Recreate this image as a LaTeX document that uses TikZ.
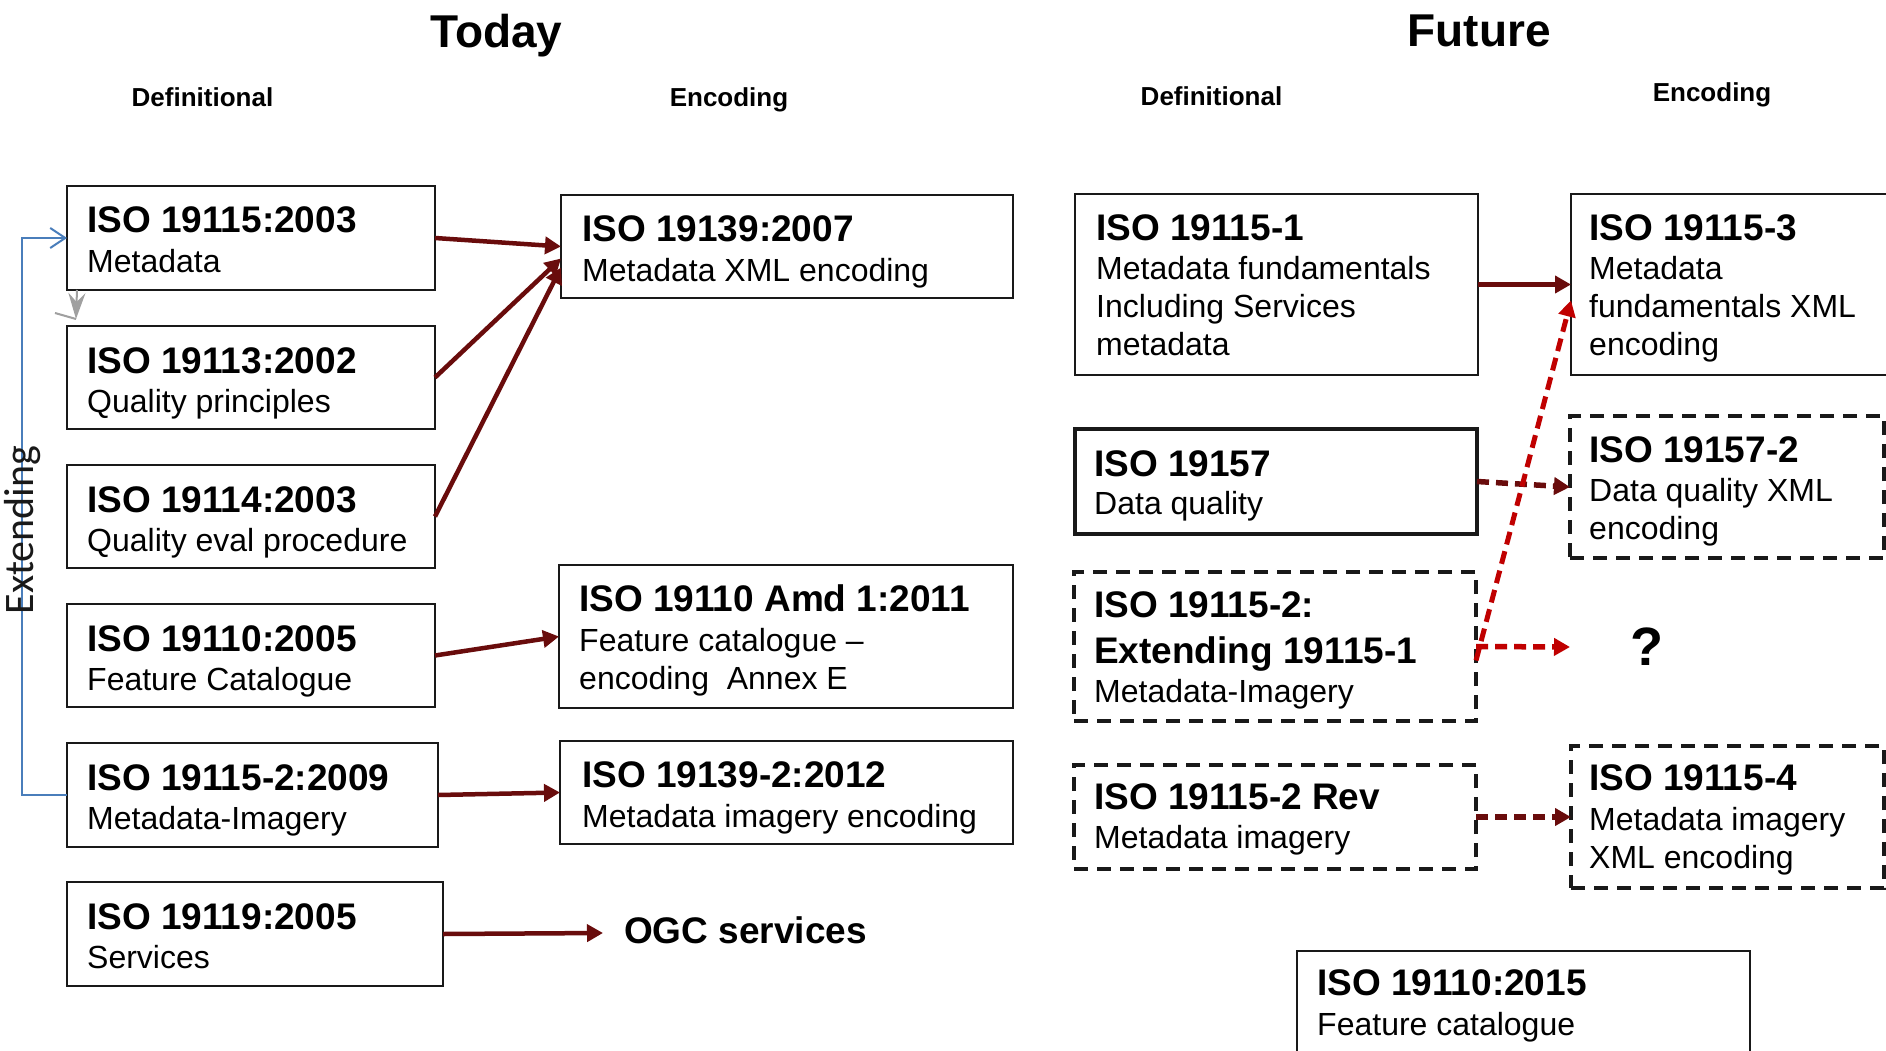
\documentclass[tikz,border=0pt]{standalone}
\usepackage{fontspec}
\setmainfont{Liberation Sans}
\newfontfamily\extfont{Carlito}
\usetikzlibrary{arrows.meta}
\definecolor{arrc}{RGB}{105,12,12}
\definecolor{redc}{RGB}{192,0,0}
\definecolor{bluec}{RGB}{74,126,187}
\definecolor{grayc}{RGB}{160,160,160}
\definecolor{boxc}{RGB}{25,25,25}
\begin{document}
\begin{tikzpicture}[x=1pt,y=-1pt,
  box/.style={draw=boxc, line width=2pt, inner sep=0pt, outer sep=0pt, anchor=north west},
  fbox/.style={box, line width=2.5pt},
  tbox/.style={box, line width=3.5pt},
  dbox/.style={box, line width=3.5pt, dash pattern=on 14pt off 9pt},
  ttl/.style={inner sep=0pt, anchor=base west, font=\fontsize{37}{44}\selectfont\bfseries},
  sub/.style={inner sep=0pt, anchor=base west, font=\fontsize{32}{38}\selectfont},
  hdr/.style={inner sep=0pt, anchor=base, font=\fontsize{46}{55}\selectfont\bfseries},
  colh/.style={inner sep=0pt, anchor=base, font=\fontsize{26}{31}\selectfont\bfseries},
  arr/.style={draw=arrc, line width=4.5pt, -{Triangle[length=16pt,width=17pt]}},
  darr/.style={arr, line width=5.5pt, dash pattern=on 12pt off 7pt},
  rarr/.style={darr, draw=redc},
  extline/.style={draw=bluec, line width=2pt, -{Straight Barb[length=15pt,width=20pt,line width=2pt]}},
  grayline/.style={draw=grayc, line width=2pt}
]
\useasboundingbox (0,0) rectangle (1886,1051);
\fill[white] (0,0) rectangle (1886,1051);

% headers
\node[hdr] (today) at (496.5,48) {Today};
\node[hdr] (future) at (1479,47) {Future};
\node[colh] (def1) at (202.5,106.5) {Definitional};
\node[colh] (enc1) at (729,106.5) {Encoding};
\node[colh] (def2) at (1211.5,106) {Definitional};
\node[colh] (enc2) at (1712,101.7) {Encoding};

% Today - definitional
\node[box, minimum width=368pt, minimum height=104pt] (b1) at (67,186) {};
\node[ttl] (b1t) at (87,233) {ISO 19115:2003};
\node[sub] (b1s) at (87,272) {Metadata};

\node[box, minimum width=368pt, minimum height=103pt] (b2) at (67,326) {};
\node[ttl] (b2t) at (87,373) {ISO 19113:2002};
\node[sub] (b2s) at (87,412) {Quality principles};

\node[box, minimum width=368pt, minimum height=103pt] (b3) at (67,465) {};
\node[ttl] (b3t) at (87,512) {ISO 19114:2003};
\node[sub] (b3s) at (87,551) {Quality eval procedure};

\node[box, minimum width=368pt, minimum height=103pt] (b4) at (67,604) {};
\node[ttl] (b4t) at (87,651) {ISO 19110:2005};
\node[sub] (b4s) at (87,690) {Feature Catalogue};

\node[box, minimum width=371pt, minimum height=104pt] (b5) at (67,743) {};
\node[ttl] (b5t) at (87,790) {ISO 19115-2:2009};
\node[sub] (b5s) at (87,829) {Metadata-Imagery};

\node[box, minimum width=376pt, minimum height=104pt] (b6) at (67,882) {};
\node[ttl] (b6t) at (87,929) {ISO 19119:2005};
\node[sub] (b6s) at (87,968) {Services};

% Today - encoding
\node[box, minimum width=452pt, minimum height=103pt] (e1) at (561,195) {};
\node[ttl] (e1t) at (582,241) {ISO 19139:2007};
\node[sub] (e1s) at (582,281) {Metadata XML encoding};

\node[box, minimum width=454pt, minimum height=143pt] (e2) at (559,565) {};
\node[ttl] (e2t) at (579,611) {ISO 19110 Amd 1:2011};
\node[sub] (e2s) at (579,651) {Feature catalogue –};
\node[sub] (e2u) at (579,689) {encoding\ \ Annex E};

\node[box, minimum width=453pt, minimum height=103pt] (e3) at (560,741) {};
\node[ttl] (e3t) at (582,787) {ISO 19139-2:2012};
\node[sub] (e3s) at (582,827) {Metadata imagery encoding};

\node[ttl] (ogc) at (624,943) {OGC services};
\coordinate (ogcin) at (603,933);

% Today arrows
\draw[arr] (b1.east) -- (e1.west);
\draw[arr] (b2.east) -- ([yshift=-12pt]e1.west);
\draw[arr] (b3.east) -- ([yshift=-21pt]e1.west);
\draw[arr] (b4.east) -- (e2.west);
\draw[arr] (b5.east) -- (e3.west);
\draw[arr] (b6.east) -- (ogcin);

% Extending
\coordinate (extx) at (22,500);
\draw[extline] (b5.west) -| (extx) |- (b1.west);
\node[rotate=90, anchor=base, inner sep=0pt, text=black!90, font=\extfont\fontsize{42}{50}\selectfont] (ext) at (33,530) {Extending};

% small gray arrow
\coordinate (g1) at (55,313);
\coordinate (g2) at (76,319);
\coordinate (g3) at (77,290);
\draw[grayline] (g1) -- (g2);
\draw[grayline, -{Stealth[length=26pt,width=17pt,inset=9pt]}] (g3) -- (g2);

% Future - definitional
\node[fbox, minimum width=403pt, minimum height=181pt] (f1) at (1075,194) {};
\node[ttl] (f1t) at (1096,240) {ISO 19115-1};
\node[sub] (f1a) at (1096,279) {Metadata fundamentals};
\node[sub] (f1b) at (1096,317) {Including Services};
\node[sub] (f1c) at (1096,355) {metadata};

\node[tbox, minimum width=402pt, minimum height=105pt] (f2) at (1075,429) {};
\node[ttl] (f2t) at (1094,476) {ISO 19157};
\node[sub] (f2s) at (1094,514) {Data quality};

\node[dbox, minimum width=402pt, minimum height=149pt] (f5) at (1074,572) {};
\node[ttl] (f5t) at (1094,617) {ISO 19115-2:};
\node[ttl] (f5u) at (1094,663) {Extending 19115-1};
\node[sub] (f5s) at (1094,702) {Metadata-Imagery};

\node[dbox, minimum width=402pt, minimum height=104pt] (f6) at (1074,765) {};
\node[ttl] (f6t) at (1094,809) {ISO 19115-2 Rev};
\node[sub] (f6s) at (1094,848) {Metadata imagery};

\node[box, minimum width=453pt, minimum height=130pt] (f8) at (1297,951) {};
\node[ttl] (f8t) at (1317,995) {ISO 19110:2015};
\node[sub] (f8s) at (1317,1035) {Feature catalogue};

% Future - encoding
\node[fbox, minimum width=330pt, minimum height=181pt] (f3) at (1571,194) {};
\node[ttl] (f3t) at (1589,240) {ISO 19115-3};
\node[sub] (f3a) at (1589,279) {Metadata};
\node[sub] (f3b) at (1589,317) {fundamentals XML};
\node[sub] (f3c) at (1589,355) {encoding};

\node[dbox, minimum width=314pt, minimum height=142pt] (f4) at (1570,416) {};
\node[ttl] (f4t) at (1589,462) {ISO 19157-2};
\node[sub] (f4a) at (1589,501) {Data quality XML};
\node[sub] (f4b) at (1589,539) {encoding};

\node[inner sep=0pt, font=\fontsize{54}{62}\selectfont\bfseries] (q) at (1647,647) {?};
\coordinate (qin) at (1570,647);

\node[dbox, minimum width=313pt, minimum height=142pt] (f7) at (1571,746) {};
\node[ttl] (f7t) at (1589,790) {ISO 19115-4};
\node[sub] (f7a) at (1589,830) {Metadata imagery};
\node[sub] (f7b) at (1589,868) {XML encoding};

% Future arrows
\draw[arr] (f1.east) -- (f3.west);
\draw[darr] (f2.east) -- (f4.west);
\draw[rarr] (f5.east) -- (qin);
\draw[rarr, line width=5pt, dash pattern=on 13pt off 7pt] ([yshift=-14pt]f5.east) -- ([yshift=-16pt]f3.west);
\draw[darr] (f6.east) -- (f7.west);
\end{tikzpicture}
\end{document}
